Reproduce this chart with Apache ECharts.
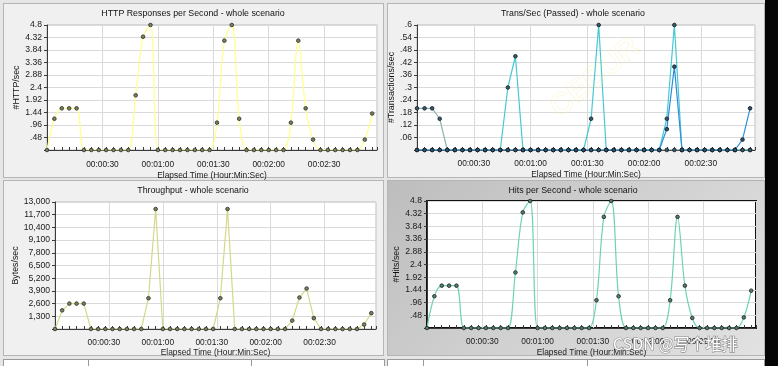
<!DOCTYPE html>
<html><head><meta charset="utf-8">
<script src="https://cdn.jsdelivr.net/npm/echarts@6/dist/echarts.min.js"></script>
<style>
html,body{margin:0;padding:0;width:778px;height:366px;overflow:hidden;background:#e6e6e6;}
#wrap{position:relative;width:778px;height:366px;}
.panel{position:absolute;box-sizing:border-box;border:1px solid #b5b5b5;background:#f0f0f0;}
.cell{position:absolute;top:359px;height:8px;box-sizing:border-box;border:1px solid #9a9a9a;border-bottom:none;background:#fff;}
#chart{position:absolute;left:0;top:0;width:778px;height:366px;}
</style></head><body>
<div id="wrap">
  <div class="panel" style="left:3px;top:3px;width:381px;height:175px"></div>
  <div class="panel" style="left:387px;top:3px;width:378px;height:175px"></div>
  <div class="panel" style="left:3px;top:180px;width:381px;height:176px"></div>
  <div class="panel" style="left:387px;top:180px;width:378px;height:176px;background:linear-gradient(135deg,#bdbdbd 0%,#cfcfcf 45%,#e2e2e2 100%);"></div>
  <div class="cell" style="left:3px;width:86px"></div>
  <div class="cell" style="left:88px;width:164px"></div>
  <div class="cell" style="left:251px;width:134px"></div>
  <div class="cell" style="left:387px;width:37px"></div>
  <div class="cell" style="left:423px;width:165px"></div>
  <div class="cell" style="left:587px;width:178px"></div>
  <div style="position:absolute;left:765px;top:0;width:13px;height:366px;background:#050505"></div>
  <div id="chart"></div>
</div>
<script>
// elapsed seconds of each sample
const time = [0,4,8,12,16,20,24,28,32,36,40,44,48,52,56,60,64,68,72,76,80,84,88,92,96,100,104,108,112,116,120,124,128,132,136,140,144,148,152,156,160,164,168,172,176];
const httpVals = [0,1.2,1.6,1.6,1.6,0,0,0,0,0,0,0,2.1,4.35,4.8,0,0,0,0,0,0,0,0,1.05,4.2,4.8,1.2,0,0,0,0,0,0,1.05,4.2,1.6,0.4,0,0,0,0,0,0,0.4,1.4];
const transA = [0.2,0.2,0.2,0.15,0,0,0,0,0,0,0,0,0,0,0,0,0,0,0,0,0,0,0,0,0,0,0,0,0,0,0,0,0,0,0,0,0,0,0,0,0,0,0,0,0];
const transB = [0,0,0,0,0,0,0,0,0,0,0,0,0.3,0.45,0,0,0,0,0,0,0,0,0,0.15,0.6,0,0,0,0,0,0,0,0,0.15,0.6,0,0,0,0,0,0,0,0,0,0];
const transC = [0,0,0,0,0,0,0,0,0,0,0,0,0,0,0,0,0,0,0,0,0,0,0,0,0,0,0,0,0,0,0,0,0,0.1,0.4,0,0,0,0,0,0,0,0,0.05,0.2];
const throughputVals = [0,1910,2600,2600,2600,0,0,0,0,0,0,0,0,3150,12280,0,0,0,0,0,0,0,0,3150,12280,0,0,0,0,0,0,0,0,860,3220,4140,1110,0,0,0,0,0,0,460,1620];
const hitsVals = [0,1.2,1.6,1.6,1.6,0,0,0,0,0,0,0,2.1,4.37,4.8,0,0,0,0,0,0,0,0,1.05,4.2,4.8,1.2,0,0,0,0,0,0,1.05,4.2,1.6,0.38,0,0,0,0,0,0,0.4,1.41];
const xTickSeconds = [30,60,90,120,150];
const xTickLabels = ['00:00:30','00:01:00','00:01:30','00:02:00','00:02:30'];
const titles = ['HTTP Responses per Second - whole scenario','Trans/Sec (Passed) - whole scenario','Throughput - whole scenario','Hits per Second - whole scenario'];
const yNames = ['#HTTP/sec','#Transactions/sec','Bytes/sec','#Hits/sec'];
const xName = 'Elapsed Time (Hour:Min:Sec)';

const FONT = 'Liberation Sans';
const pairs = vals => time.map((t,i)=>[t, vals[i]]);
const dec = v => { if (Math.abs(v) < 1e-9) return ''; const s = String(Math.round(v*100)/100); return s.startsWith('0.') ? s.slice(1) : s; };
const comma = v => v === 0 ? '' : String(Math.round(v)).replace(/\B(?=(\d{3})+(?!\d))/g, ',');
const tfmt = v => { const k = xTickSeconds.indexOf(Math.round(v*1000)/1000); return k >= 0 ? xTickLabels[k] : ''; };

const grids = [
  {left:47, top:25, width:330, height:125},
  {left:417, top:25, width:338, height:125},
  {left:55, top:202, width:321, height:127},
  {left:427, top:201, width:329, height:127}
];
const yCfg = [
  {max:4.8, interval:0.48, fmt:dec, gap:24},
  {max:0.6, interval:0.06, fmt:dec, gap:15},
  {max:13000, interval:1300, fmt:comma, gap:33},
  {max:4.8, interval:0.48, fmt:dec, gap:25}
];
const xCfg = [
  {labelMargin:11, nameGap:22, pad:[0,0,0,0]},
  {labelMargin:10, nameGap:20.5, pad:[0,0,0,0]},
  {labelMargin:9.5, nameGap:20, pad:[0,10,0,0]},
  {labelMargin:10, nameGap:20.5, pad:[0,0,0,0]}
];
const titlePos = [[193,9],[573,9],[193,186],[573,186]];
const XMAX = 178.6;

const chart = echarts.init(document.getElementById('chart'), null, {renderer:'canvas'});
const gridOpt = grids.map((g,i)=>Object.assign({}, g, {
  show:true, backgroundColor:'#ffffff',
  borderColor: i===3 ? '#111111' : '#bdbdbd', borderWidth: i===3 ? 2 : 1,
  containLabel:false, outerBoundsMode:'none'
}));
const xAxes = [];
grids.forEach((g,i)=>{
  xAxes.push({
    type:'value', gridIndex:i, min:0, max:XMAX, interval:30,
    name:xName, nameLocation:'middle', nameGap:xCfg[i].nameGap,
    nameTextStyle:{fontFamily:FONT, fontSize:8.4, color:'#1a1a1a'},
    axisLine:{show:true, onZero:false, lineStyle:{color:'#3a3a3a', width:1}},
    axisTick:{show:false},
    axisLabel:{show:true, formatter:tfmt, fontFamily:FONT, fontSize:8.4, color:'#1a1a1a', margin:xCfg[i].labelMargin, padding:xCfg[i].pad, showMinLabel:true, showMaxLabel:true, hideOverlap:false},
    splitLine:{show:true, lineStyle:{color:'#dadada', width:1}}
  });
  xAxes.push({
    type:'value', gridIndex:i, min:0, max:XMAX, interval:4,
    axisLine:{show:false}, axisLabel:{show:false}, splitLine:{show:false},
    axisTick:{show:true, length:3, lineStyle:{color:'#3a3a3a', width:1}}
  });
});
const yAxes = grids.map((g,i)=>({
  type:'value', gridIndex:i, min:0, max:yCfg[i].max, interval:yCfg[i].interval,
  name:yNames[i], nameLocation:'middle', nameGap:yCfg[i].gap, nameRotate:90,
  nameTextStyle:{fontFamily:FONT, fontSize:8.8, color:'#111111'},
  axisLine:{show:true, lineStyle:{color:'#3a3a3a', width:1}},
  axisTick:{show:true, length:3, lineStyle:{color:'#3a3a3a'}},
  axisLabel:{formatter:yCfg[i].fmt, fontFamily:FONT, fontSize:8.6, color:'#1a1a1a', margin:5, showMinLabel:true, showMaxLabel:true, hideOverlap:false},
  splitLine:{show:true, lineStyle:{color:'#dadada', width:1}}
}));
const mk = (name, gi, vals, lineColor, smooth, dotColor, dotBorder) => ({
  name, type:'line', xAxisIndex:gi*2, yAxisIndex:gi, data:pairs(vals),
  smooth: smooth,
  lineStyle:{color:lineColor, width:1.2},
  symbol:'circle', symbolSize:3.6, showSymbol:true,
  itemStyle:{color:dotColor, borderColor:dotBorder, borderWidth:0.9},
  emphasis:{disabled:true}, animation:false, clip:true
});
const option = {
  animation:false,
  textStyle:{fontFamily:FONT},
  title: titles.map((t,i)=>({text:t, left:titlePos[i][0], top:titlePos[i][1], textAlign:'center', padding:0,
    textStyle:{fontFamily:FONT, fontSize:8.8, fontWeight:'normal', color:'#111111'}})),
  grid: gridOpt,
  xAxis: xAxes,
  yAxis: yAxes,
  series: [
    mk('HTTP Responses', 0, httpVals, '#ffff8a', 0.35, '#7d8064', '#33352a'),
    mk('Init Transaction', 1, transA, '#8fb5b0', false, '#3e5a66', '#14232c'),
    mk('Main Transaction', 1, transB, '#46c9d3', false, '#3e5a66', '#14232c'),
    mk('Sub Transaction', 1, transC, '#2c8fd8', false, '#36506a', '#101e2c'),
    mk('Throughput', 2, throughputVals, '#d4d98a', false, '#7d8064', '#33352a'),
    mk('Hits', 3, hitsVals, '#6fd1b6', 0.35, '#5f7a70', '#1e2e28')
  ],
  graphic: [
    {type:'text', z:100, rotation:Math.PI*0.22, x:545, y:100,
      style:{text:'CECUR', font:'bold 30px "Liberation Sans"', fill:'rgba(255,255,255,0)', stroke:'rgba(245,235,150,0.35)', lineWidth:0.7}},
    {type:'text', z:100, x:613, y:336,
      style:{text:'CSDN @写个堆排', font:'16px "Noto Sans CJK SC"', fill:'#ffffff', stroke:'#8a8a8a', lineWidth:1.2}}
  ]
};
chart.setOption(option);
</script>
</body></html>
